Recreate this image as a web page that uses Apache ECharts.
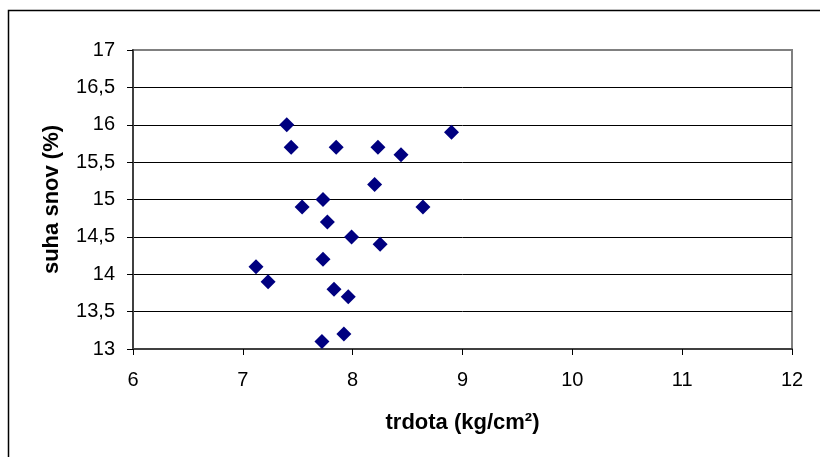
<!DOCTYPE html>
<html>
<head>
<meta charset="utf-8">
<script src="https://cdn.jsdelivr.net/npm/echarts@6/dist/echarts.min.js"></script>
<style>
  html, body { margin: 0; padding: 0; background: #fff; }
  #chart { width: 820px; height: 457px; }
</style>
</head>
<body>
<div id="chart"></div>
<script>
// Data
const trdota = [7.40, 7.44, 7.85, 8.23, 8.44, 8.90, 8.20, 7.73, 7.54, 8.64,
                7.77, 7.99, 8.25, 7.73, 7.12, 7.23, 7.83, 7.96, 7.92, 7.72];
const suhaSnov = [16.0, 15.7, 15.7, 15.7, 15.6, 15.9, 15.2, 15.0, 14.9, 14.9,
                  14.7, 14.5, 14.4, 14.2, 14.1, 13.9, 13.8, 13.7, 13.2, 13.1];
const xTicks = [6, 7, 8, 9, 10, 11, 12];
const yTicks = [13, 13.5, 14, 14.5, 15, 15.5, 16, 16.5, 17];

(function() {
    const chart = echarts.init(document.getElementById('chart'), null, { renderer: 'canvas' });
    const font = 'Liberation Sans, Arial, sans-serif';

    // grid lines black, top one matches grey plot border
    const splitColors = yTicks.map((v, i) => i === yTicks.length - 1 ? '#808080' : '#000000');

    const option = {
        backgroundColor: '#ffffff',
        animation: false,
        graphic: [{
            type: 'rect',
            shape: { x: 8.5, y: 10.5, width: 830, height: 460 },
            style: { fill: 'none', stroke: '#000', lineWidth: 1.5 },
            silent: true
        }],
        grid: {
            left: 133, right: 28, top: 50, bottom: 108,
            show: true,
            borderColor: '#808080',
            borderWidth: 2,
            backgroundColor: 'transparent'
        },
        xAxis: {
            type: 'value',
            min: xTicks[0],
            max: xTicks[xTicks.length - 1],
            interval: 1,
            name: 'trdota (kg/cm²)',
            nameLocation: 'middle',
            nameGap: 63,
            nameTextStyle: { fontFamily: font, fontSize: 22, fontWeight: 'bold', color: '#000' },
            axisLine: { show: true, onZero: false, lineStyle: { color: '#404040', width: 2 } },
            axisTick: { show: true, inside: false, length: 6, lineStyle: { color: '#000' } },
            axisLabel: { fontFamily: font, fontSize: 20, color: '#000', margin: 21 },
            splitLine: { show: false }
        },
        yAxis: {
            type: 'value',
            min: yTicks[0],
            max: yTicks[yTicks.length - 1],
            interval: 0.5,
            name: 'suha snov (%)',
            nameLocation: 'middle',
            nameGap: 70,
            nameTextStyle: { fontFamily: font, fontSize: 22, fontWeight: 'bold', color: '#000' },
            axisLine: { show: true, onZero: false, lineStyle: { color: '#404040', width: 2 } },
            axisTick: { show: true, inside: false, length: 6, lineStyle: { color: '#000' } },
            axisLabel: {
                fontFamily: font, fontSize: 20, color: '#000', margin: 18,
                formatter: v => String(v).replace('.', ',')
            },
            splitLine: { show: true, lineStyle: { color: splitColors, width: 1 } }
        },
        series: [{
            type: 'scatter',
            data: trdota.map((x, i) => [x, suhaSnov[i]]),
            symbol: 'diamond',
            symbolSize: 15,
            itemStyle: { color: '#000080', opacity: 1 }
        }]
    };

    chart.setOption(option);
})();
</script>
</body>
</html>
